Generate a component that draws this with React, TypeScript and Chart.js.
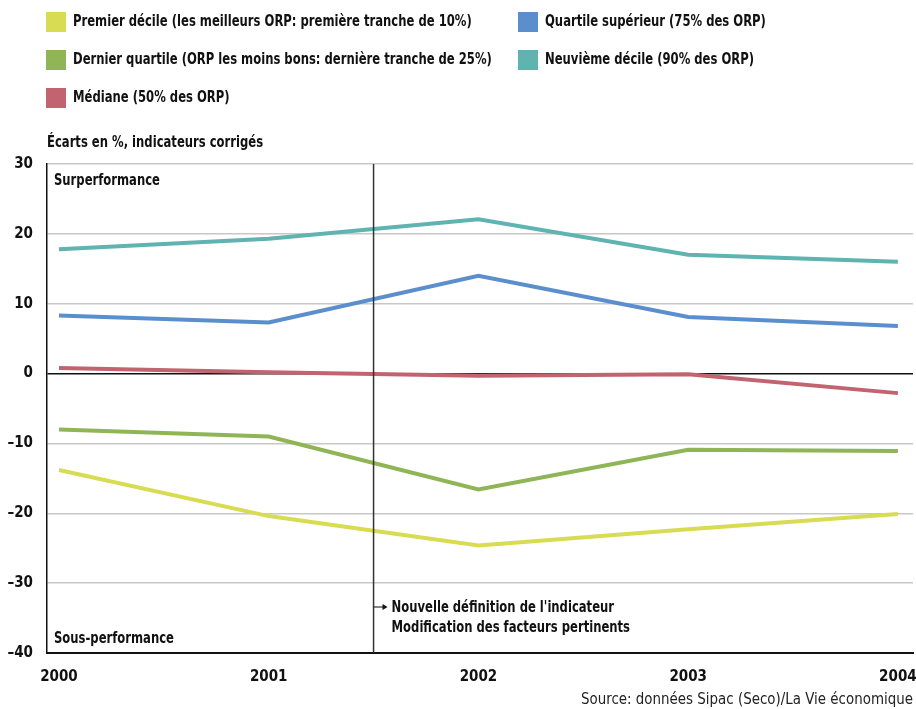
import React, { useEffect, useRef } from "react";
import { Chart, registerables } from "chart.js";

Chart.register(...registerables);

const years = [2000, 2001, 2002, 2003, 2004];
const yTicks = [30, 20, 10, 0, -10, -20, -30, -40];

const premierDecile = [-13.8, -20.4, -24.6, -22.3, -20.1];
const dernierQuartile = [-8.0, -9.0, -16.6, -10.9, -11.1];
const mediane = [0.8, 0.2, -0.3, -0.1, -2.8];
const quartileSup = [8.3, 7.3, 14.0, 8.1, 6.8];
const neuviemeDecile = [17.8, 19.3, 22.1, 17.0, 16.0];

const seriesLabels = [
  "Premier décile (les meilleurs ORP: première tranche de 10%)",
  "Dernier quartile (ORP les moins bons: dernière tranche de 25%)",
  "Médiane (50% des ORP)",
  "Quartile supérieur (75% des ORP)",
  "Neuvième décile (90% des ORP)",
];
const seriesColors = ["#d8dc52", "#8fb556", "#c1646f", "#5b8ecd", "#5fb3b0"];
const seriesValues = [premierDecile, dernierQuartile, mediane, quartileSup, neuviemeDecile];

const breakYear = 2001.5;
const breakNote = ["Nouvelle définition de l'indicateur", "Modification des facteurs pertinents"];
const axisTitle = "Écarts en %, indicateurs corrigés";
const topNote = "Surperformance";
const bottomNote = "Sous-performance";
const sourceText = "Source: données Sipac (Seco)/La Vie économique";

const FONT = "'DejaVu Sans Condensed', 'Noto Sans', sans-serif";
const CONDENSE = 0.86;

function condensedText(ctx: any, text: string, x: number, y: number) {
  const w = ctx.measureText(text).width;
  ctx.fillText(text, x, y, w * CONDENSE);
}

const decorPlugin = {
  id: "decor",
  afterDraw(chart: any) {
    const ctx = chart.ctx;
    const xs = chart.scales.x;
    const area = chart.chartArea;
    ctx.save();
    // legend
    const legendPos = [
      [46, 12], [46, 50], [46, 88], [518, 12], [518, 50],
    ];
    ctx.font = `bold 15px ${FONT}`;
    ctx.textBaseline = "middle";
    ctx.textAlign = "left";
    chart.data.datasets.forEach((ds: any, i: number) => {
      const [lx, ly] = legendPos[i];
      ctx.fillStyle = ds.borderColor;
      ctx.fillRect(lx, ly, 20, 20);
      ctx.fillStyle = "#111";
      condensedText(ctx, ds.label, lx + 27, ly + 10);
    });
    // axis title
    condensedText(ctx, axisTitle, area.left, 143);
    // notes
    condensedText(ctx, topNote, area.left + 7, 181);
    condensedText(ctx, bottomNote, area.left + 7, 639);
    // vertical break line
    const bx = xs.getPixelForValue(breakYear);
    ctx.strokeStyle = "#333";
    ctx.lineWidth = 1.5;
    ctx.beginPath();
    ctx.moveTo(bx, area.top);
    ctx.lineTo(bx, area.bottom);
    ctx.stroke();
    // arrow
    const ay = 607;
    ctx.lineWidth = 1.2;
    ctx.beginPath();
    ctx.moveTo(bx, ay);
    ctx.lineTo(bx + 11, ay);
    ctx.stroke();
    ctx.fillStyle = "#111";
    ctx.beginPath();
    ctx.moveTo(bx + 14, ay);
    ctx.lineTo(bx + 9, ay - 3);
    ctx.lineTo(bx + 9, ay + 3);
    ctx.closePath();
    ctx.fill();
    condensedText(ctx, breakNote[0], bx + 18, ay + 1);
    condensedText(ctx, breakNote[1], bx + 18, ay + 21);
    // source
    ctx.font = `15px ${FONT}`;
    ctx.textAlign = "right";
    ctx.fillStyle = "#222";
    ctx.fillText(sourceText, 913, 700, 332);
    ctx.restore();
  },
};

export default function App() {
  const ref = useRef<HTMLCanvasElement | null>(null);
  useEffect(() => {
    if (!ref.current) return;
    const chart = new Chart(ref.current, {
      type: "line",
      data: {
        datasets: seriesValues.map((vals, i) => ({
          label: seriesLabels[i],
          data: years.map((yr, j) => ({ x: yr, y: vals[j] })),
          borderColor: seriesColors[i],
          backgroundColor: seriesColors[i],
          borderWidth: 4,
          pointRadius: 0,
          tension: 0,
          fill: false,
        })),
      },
      options: {
        animation: false,
        responsive: false,
        maintainAspectRatio: false,
        layout: { padding: { top: 164, right: 3, left: 0, bottom: 0 } },
        plugins: { legend: { display: false }, tooltip: { enabled: false } },
        scales: {
          x: {
            type: "linear",
            min: 1999.943,
            max: 2004.072,
            afterFit: (s: any) => { s.height = 56; s.paddingLeft = 0; s.paddingRight = 0; },
            afterBuildTicks: (s: any) => { s.ticks = years.map((v) => ({ value: v })); },
            grid: { display: false, drawTicks: false },
            border: { display: true, color: "#111", width: 2 },
            ticks: {
              padding: 15,
              maxRotation: 0,
              autoSkip: false,
              color: "#111",
              font: { family: FONT, size: 15, weight: "bold" },
              callback: (v: any) => String(v),
            },
          },
          y: {
            type: "linear",
            min: -40,
            max: 30,
            afterFit: (s: any) => { s.width = 47; s.paddingTop = 0; s.paddingBottom = 0; },
            afterBuildTicks: (s: any) => { s.ticks = yTicks.map((v) => ({ value: v })); },
            grid: {
              drawTicks: false,
              lineWidth: 1.5,
              color: (c: any) => (c.tick && c.tick.value === 0 ? "#111" : "#c8c8c8"),
            },
            border: { display: true, color: "#111", width: 1.5 },
            ticks: {
              padding: 14,
              color: "#111",
              font: { family: FONT, size: 15, weight: "bold" },
              callback: (v: any) => (Number(v) < 0 ? "\u2013" + Math.abs(Number(v)) : String(v)),
            },
          },
        },
      },
      plugins: [decorPlugin],
    });
    return () => chart.destroy();
  }, []);
  return (
    <div style={{ position: "absolute", left: 0, top: 0, width: 916, height: 709, background: "#fff" }}>
      <canvas ref={ref} width={916} height={709} style={{ width: 916, height: 709 }} />
    </div>
  );
}
